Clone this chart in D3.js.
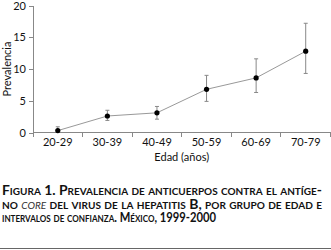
<!DOCTYPE html>
<meta charset="utf-8">
<style>
body { margin: 0; background: #fff; }
svg { display: block; }
.axis text { font: 11px Lato, sans-serif; fill: #111; }
.axis path, .axis line { fill: none; stroke: #888; shape-rendering: crispEdges; }
.label { font: 11px Lato, sans-serif; fill: #111; }
.caption { font: bold 12.5px Lato, sans-serif; font-variant: small-caps; fill: #111; }
.caption .it { font-style: italic; font-weight: normal; fill: #333; }
</style>
<svg class="chart"></svg>
<script src="https://d3js.org/d3.v7.min.js"></script>
<script>

var groups = ["20-29", "30-39", "40-49", "50-59", "60-69", "70-79"];
var prevalence = [0.3, 2.6, 3.1, 6.8, 8.6, 12.8];
var lower = [0.0, 1.9, 2.1, 4.9, 6.3, 9.3];
var upper = [0.9, 3.5, 4.1, 9.0, 11.6, 17.2];
var yTicks = [0, 5, 10, 15, 20];
// each caption line as pieces: [text, italic?]
var captionLines = [
  [["Figura 1. Prevalencia de anticuerpos contra el antíge-", false]],
  [["no ", false], ["core", true], [" del virus de la hepatitis B, por grupo de edad e", false]],
  [["intervalos de confianza. México, 1999-2000", false]]
];
var captionWidths = [320, 320, 214];

var width = 331, height = 250;

var data = groups.map(function (g, i) {
  return {group: g, value: prevalence[i], lo: lower[i], hi: upper[i]};
});

var svg = d3.select(".chart")
    .attr("width", width)
    .attr("height", height);

var x = d3.scaleBand().domain(groups).range([33, 330.5]);
var y = d3.scaleLinear().domain([0, 20]).range([132.5, 5.5]);

// y axis
svg.append("g")
    .attr("class", "y axis")
    .attr("transform", "translate(33,0)")
    .call(d3.axisLeft(y).tickValues(yTicks).tickSize(4).tickSizeOuter(0).tickPadding(3));

// x axis, labels centred in bands, ticks on band edges
var xAxis = svg.append("g")
    .attr("class", "x axis")
    .attr("transform", "translate(0,132.5)")
    .call(d3.axisBottom(x).tickSize(0).tickPadding(6));
xAxis.select(".domain").remove();
xAxis.append("line")
    .attr("x1", x.range()[0]).attr("x2", x.range()[1]);
var edges = groups.map(function (g) { return x(g); }).concat([x.range()[1]]);
xAxis.selectAll(".edge")
    .data(edges)
  .enter().append("line")
    .attr("class", "edge")
    .attr("x1", function (d) { return d; })
    .attr("x2", function (d) { return d; })
    .attr("y1", 0).attr("y2", 4);

svg.append("text")
    .attr("class", "label")
    .attr("transform", "translate(10.5," + y(10) + ") rotate(-90)")
    .attr("text-anchor", "middle")
    .text("Prevalencia");

svg.append("text")
    .attr("class", "label")
    .attr("x", (x.range()[0] + x.range()[1]) / 2)
    .attr("y", 161)
    .attr("text-anchor", "middle")
    .text("Edad (años)");

var cx = function (d) { return x(d.group) + x.bandwidth() / 2; };

// connecting line
svg.append("path")
    .datum(data)
    .attr("fill", "none")
    .attr("stroke", "#999")
    .attr("stroke-width", 1)
    .attr("d", d3.line().x(cx).y(function (d) { return y(d.value); }));

// error bars
var err = svg.selectAll(".err")
    .data(data)
  .enter().append("g")
    .attr("class", "err")
    .attr("stroke", "#888")
    .attr("stroke-width", 1);
err.append("line")
    .attr("x1", cx).attr("x2", cx)
    .attr("y1", function (d) { return y(d.lo); })
    .attr("y2", function (d) { return y(d.hi); });
err.append("line")
    .attr("x1", function (d) { return cx(d) - 2; })
    .attr("x2", function (d) { return cx(d) + 2; })
    .attr("y1", function (d) { return y(d.hi); })
    .attr("y2", function (d) { return y(d.hi); });
err.append("line")
    .attr("x1", function (d) { return cx(d) - 2; })
    .attr("x2", function (d) { return cx(d) + 2; })
    .attr("y1", function (d) { return y(d.lo); })
    .attr("y2", function (d) { return y(d.lo); });

// points
svg.selectAll(".dot")
    .data(data)
  .enter().append("circle")
    .attr("class", "dot")
    .attr("cx", cx)
    .attr("cy", function (d) { return y(d.value); })
    .attr("r", 2.6)
    .attr("fill", "#000");

// caption
var cap = svg.selectAll(".caption")
    .data(captionLines)
  .enter().append("text")
    .attr("class", "caption")
    .attr("x", 2)
    .attr("y", function (d, i) { return 195 + i * 13.6; })
    .attr("textLength", function (d, i) { return captionWidths[i]; })
    .attr("lengthAdjust", "spacingAndGlyphs");
cap.selectAll("tspan")
    .data(function (d) { return d; })
  .enter().append("tspan")
    .attr("class", function (d) { return d[1] ? "it" : null; })
    .text(function (d) { return d[0]; });

svg.append("line")
    .attr("x1", 0).attr("x2", width)
    .attr("y1", 248.5).attr("y2", 248.5)
    .attr("stroke", "#666")
    .attr("stroke-width", 1);

</script>
